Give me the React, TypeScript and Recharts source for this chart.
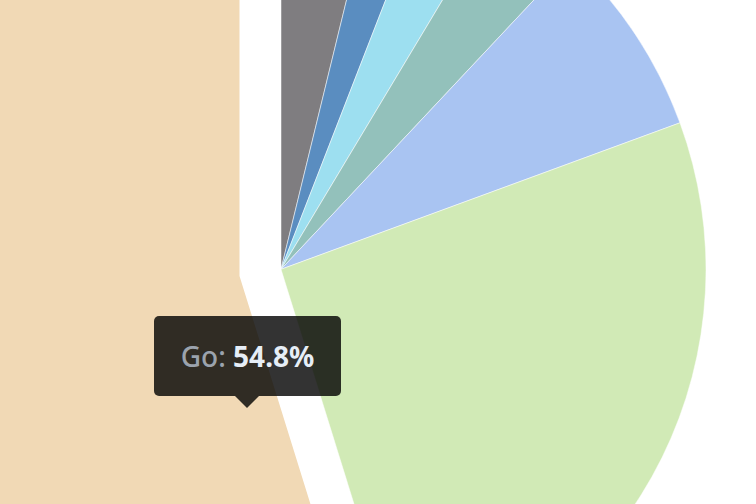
import React from 'react'
import { PieChart, Pie, Cell } from 'recharts'

// slices, clockwise from 12 o'clock
const NAMES = ['C', 'Rust', 'Python', 'Java', 'JavaScript', 'TypeScript', 'Go']
const SHARES = [3.8, 2.1, 2.7, 3.4, 7.4, 25.8, 54.8]
const COLORS = ['#7f7d80', '#5a8dc0', '#9ddff0', '#93c1bb', '#a9c4f2', '#d1eab6', '#f1d9b5']

const EXPLODED = 'Go'

const data = NAMES.map((name, i) => ({ name, value: SHARES[i] }))

export default function App() {
  const hovered = data.find((d) => d.name === EXPLODED)!
  const noMargin = { top: 0, right: 0, bottom: 0, left: 0 }

  return (
    <div style={{ position: 'absolute', left: 0, top: 0, width: 756, height: 504, overflow: 'hidden' }}>
      <PieChart width={756} height={504} margin={noMargin}>
        <Pie
          data={data}
          dataKey="value"
          nameKey="name"
          cx={281}
          cy={269.3}
          outerRadius={425}
          startAngle={90}
          endAngle={-270}
          stroke="#ffffff"
          strokeWidth={0.5}
          isAnimationActive={false}
        >
          {data.map((d, i) => (
            <Cell
              key={d.name}
              fill={d.name === EXPLODED ? 'none' : COLORS[i]}
              stroke={d.name === EXPLODED ? 'none' : '#ffffff'}
            />
          ))}
        </Pie>
        {/* the sliced-out segment */}
        <Pie
          data={data}
          dataKey="value"
          nameKey="name"
          cx={239.5}
          cy={276}
          outerRadius={425}
          startAngle={90}
          endAngle={-270}
          isAnimationActive={false}
        >
          {data.map((d, i) => (
            <Cell
              key={d.name}
              fill={d.name === EXPLODED ? COLORS[i] : 'none'}
              stroke="none"
            />
          ))}
        </Pie>
      </PieChart>

      <div
        style={{
          position: 'absolute',
          left: 154,
          top: 316,
          width: 187,
          height: 80,
          background: 'rgba(0,0,0,0.8)',
          borderRadius: 5,
          display: 'flex',
          alignItems: 'center',
          justifyContent: 'center',
          fontFamily: '"Noto Sans", sans-serif',
          fontSize: 28,
          whiteSpace: 'nowrap',
        }}
      >
        <span style={{ color: '#9ba3ad', fontWeight: 500 }}>{hovered.name}:&nbsp;</span>
        <span style={{ color: '#e6eef7', fontWeight: 700 }}>{hovered.value}%</span>
        <div
          style={{
            position: 'absolute',
            left: 81,
            top: 80,
            width: 0,
            height: 0,
            borderLeft: '12px solid transparent',
            borderRight: '12px solid transparent',
            borderTop: '12px solid rgba(0,0,0,0.8)',
          }}
        />
      </div>
    </div>
  )
}
